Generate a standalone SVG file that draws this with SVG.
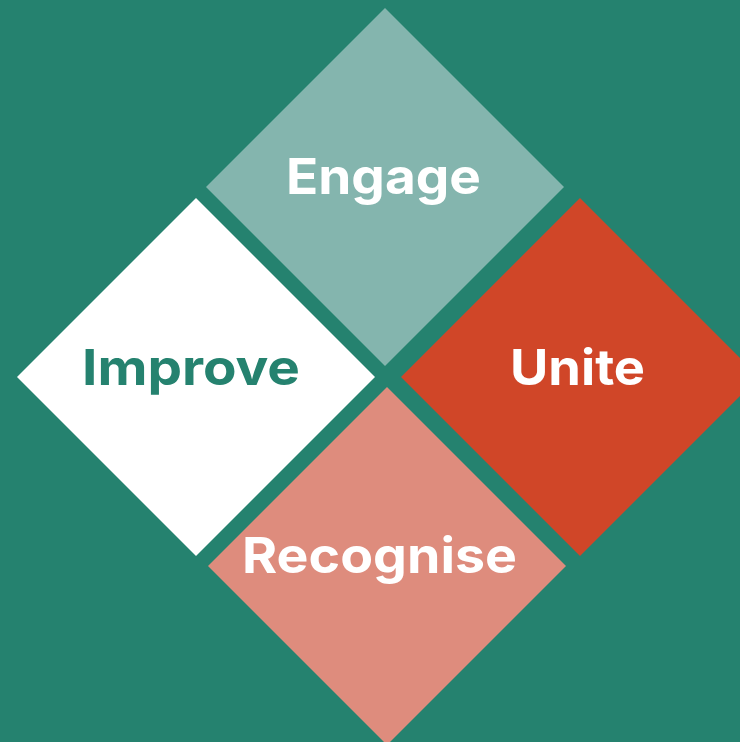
<svg xmlns="http://www.w3.org/2000/svg" width="740" height="742" viewBox="0 0 740 742">
<style>
.lbl{font-family:"Inter","Open Sans","Liberation Sans",sans-serif;font-weight:700;font-size:50px;text-anchor:middle}
.w{fill:#ffffff}
.t{fill:#25826F}
</style>
<rect x="0" y="0" width="740" height="742" fill="#25826F"/>
<g id="engage">
<polygon points="385,8 564,187 385,366 206,187" fill="#84B5AE"/>
<text class="lbl w" x="383.5" y="194" textLength="195" lengthAdjust="spacingAndGlyphs">Engage</text>
</g>
<g id="improve">
<polygon points="196,198 375,377 196,556 17,377" fill="#FFFFFF"/>
<text class="lbl t" x="191" y="385" textLength="218" lengthAdjust="spacingAndGlyphs">Improve</text>
</g>
<g id="unite">
<polygon points="580,198 759,377 580,556 401,377" fill="#D04628"/>
<text class="lbl w" x="577.5" y="385" textLength="135" lengthAdjust="spacingAndGlyphs">Unite</text>
</g>
<g id="recognise">
<polygon points="387,387 566,566 387,745 208,566" fill="#DE8C7D"/>
<text class="lbl w" x="379.5" y="573" textLength="275" lengthAdjust="spacingAndGlyphs">Recognise</text>
</g>
<g id="connectors"></g>
</svg>
